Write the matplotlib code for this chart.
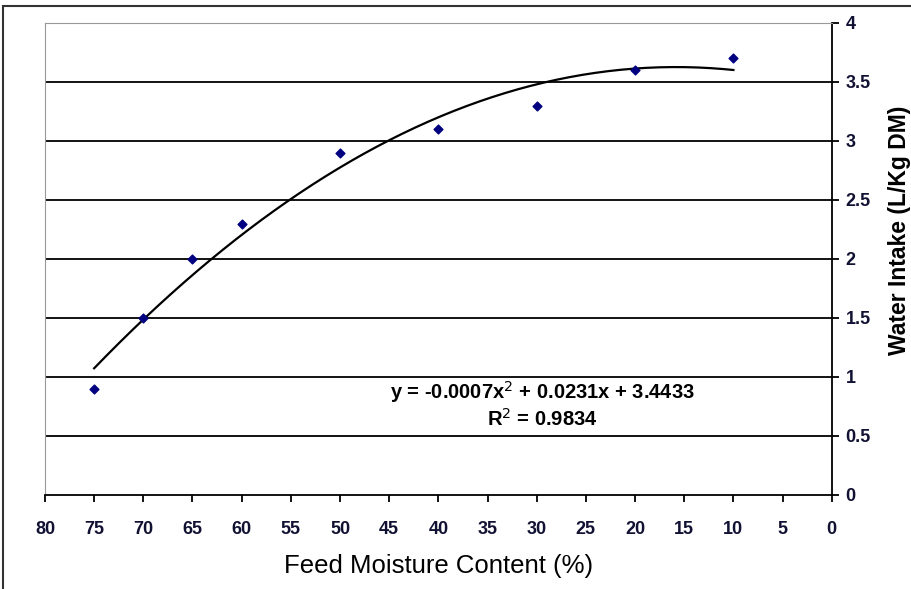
import numpy as np
import matplotlib.pyplot as plt
from matplotlib.patches import Rectangle

plt.rcParams['font.family'] = ['Liberation Sans', 'DejaVu Sans']

moisture = [75, 70, 65, 60, 50, 40, 30, 20, 10]
intake = [0.9, 1.5, 2.0, 2.3, 2.9, 3.1, 3.3, 3.6, 3.7]
x_ticks = list(range(80, -1, -5))
y_ticks = [0, 0.5, 1, 1.5, 2, 2.5, 3, 3.5, 4]
equation = "y = -0.0007x$^2$ + 0.0231x + 3.4433"
r_squared = "R$^2$ = 0.9834"

fig = plt.figure(figsize=(9.12, 5.89), dpi=100)
# outer chart frame (left and top edges visible)
fig.patches.append(Rectangle((0.003, -0.1), 1.1, 1.09, transform=fig.transFigure,
                             fill=False, edgecolor='#333333', linewidth=1.5))
ax = fig.add_axes([0.0493, 0.1596, 0.8627, 0.8014])

# trendline: second order polynomial fitted to the points
coef = np.polyfit(moisture, intake, 2)
xs = np.linspace(75, 10, 200)
ax.plot(xs, np.polyval(coef, xs), color='black', linewidth=1.6, zorder=3)
ax.scatter(moisture, intake, marker='D', s=20, color='#000080', zorder=4)

ax.set_xlim(80, 0)
ax.set_ylim(0, 4)
ax.set_xticks(x_ticks)
ax.set_yticks(y_ticks)
ax.set_yticklabels([f"{v:g}" for v in y_ticks])
for v in y_ticks[1:-1]:
    ax.axhline(v, color='black', linewidth=1.3, zorder=1)

ax.yaxis.tick_right()
ax.yaxis.set_label_position('right')
ax.tick_params(axis='both', direction='out', length=5, width=1.3, labelsize=13)
ax.tick_params(axis='x', pad=14)
ax.tick_params(axis='y', pad=5)
for lab in ax.get_xticklabels() + ax.get_yticklabels():
    lab.set_fontweight('bold')
    lab.set_color('#111133')

ax.spines['left'].set_color('#999999')
ax.spines['top'].set_color('#999999')
ax.spines['right'].set_linewidth(1.3)
ax.spines['bottom'].set_linewidth(1.3)

ax.set_xlabel("Feed Moisture Content (%)", fontsize=18.5, labelpad=11)
ax.set_ylabel("Water Intake (L/Kg DM)", fontsize=16.5, fontweight='bold',
              va='center', ha='center')
ax.yaxis.set_label_coords(1.086, 0.561)

ax.text(29.4, 0.873, equation, ha='center', va='center', fontsize=14.5, fontweight='bold')
ax.text(29.4, 0.644, r_squared, ha='center', va='center', fontsize=14.5, fontweight='bold')

fig.savefig("out.png", dpi=100)
